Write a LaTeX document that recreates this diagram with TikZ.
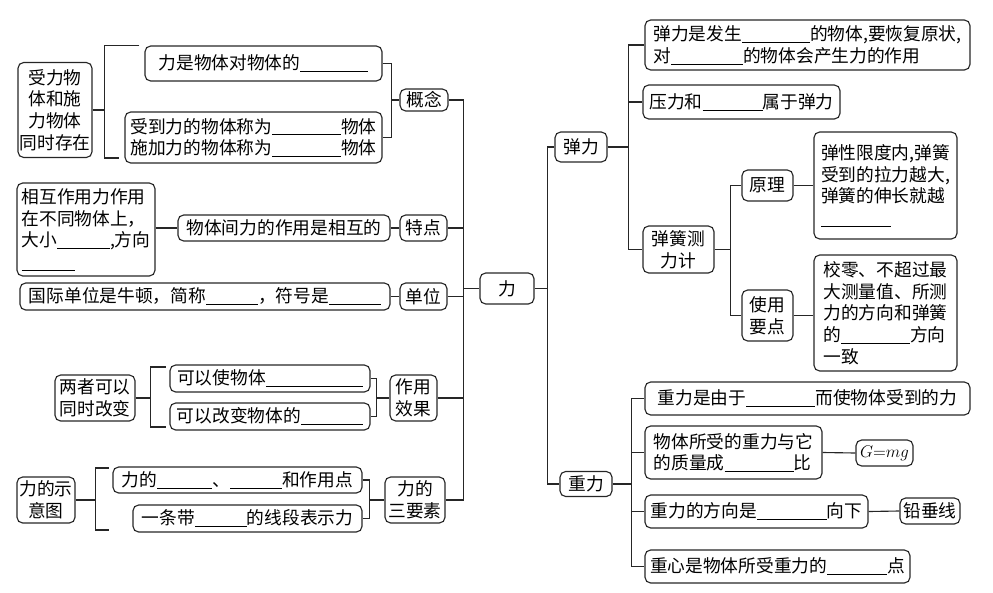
\documentclass[tikz,border=0pt]{standalone}
\usepackage{fontspec}
\setmainfont{Noto Sans CJK SC}
\usetikzlibrary{calc}
\newcommand\blank[1]{\rule[-1.5pt]{\dimexpr0.025cm*#1\relax}{0.6pt}}

\begin{document}
\begin{tikzpicture}[
  x=0.025cm, y=-0.025cm,
  font=\fontsize{12.6}{15.4}\selectfont,
  box/.style={draw=black!85, rounded corners=4pt, line width=0.8pt, inner sep=1pt, align=center},
  sz/.style 2 args={minimum width=#1*0.025cm, minimum height=#2*0.025cm},
  conn/.style={draw=black!85, line width=0.8pt}
]
\useasboundingbox (0,0) rectangle (993,592);
% left side
\node[box, sz={74}{95}] (sl) at (55,110) {受力物\\体和施\\力物体\\同时存在};
\node[box, sz={237}{35}] (c1) at (263.5,63.5) {力是物体对物体的\blank{68}};
\node[box, sz={257}{51}, align=left] (c2) at (253.5,137.5) {受到力的物体称为\blank{69}物体\\施加力的物体称为\blank{69}物体};
\node[box, sz={48}{22}] (gn) at (424,100) {概念};
\node[box, sz={138}{93}, align=left] (hx) at (86,229.5) {相互作用力作用\\在不同物体上，\\大小\blank{53},方向\\\blank{53}};
\node[box, sz={212}{26}] (wt) at (284,228) {物体间力的作用是相互的};
\node[box, sz={47}{26}] (td) at (423.5,228) {特点};
\node[box, sz={370}{27}] (gj) at (205,296.5) {国际单位是牛顿，简称\blank{52}，符号是\blank{52}};
\node[box, sz={47}{27}] (dw) at (423.5,296.5) {单位};
\node[box, sz={80}{46}] (lz) at (95,398) {两者可以\\同时改变};
\node[box, sz={200}{27}] (k1) at (270,378.5) {可以使物体\blank{97}};
\node[box, sz={200}{27}] (k2) at (270,416.5) {可以改变物体的\blank{62}};
\node[box, sz={47}{46}] (xg) at (413.5,398) {作用\\效果};
\node[box, sz={58}{46}] (sx) at (46,500) {力的示\\意图};
\node[box, sz={249}{26}] (y1) at (237.5,480) {力的\blank{55}、\blank{52}和作用点};
\node[box, sz={229}{27}] (y2) at (247.5,518.5) {一条带\blank{52}的线段表示力};
\node[box, sz={60}{46}] (ys) at (415,500) {力的\\三要素};
% centre
\node[box, sz={54}{31}] (li) at (507,288.5) {力};
% right side
\node[box, sz={52}{30}] (tl) at (581,147) {弹力};
\node[box, sz={325}{50}, align=left] (t1) at (807.5,45) {弹力是发生\blank{68}的物体,要恢复原状,\\对\blank{72}的物体会产生力的作用};
\node[box, sz={197}{34}] (t2) at (741.5,102) {压力和\blank{60}属于弹力};
\node[box, sz={71}{47}] (cl) at (678.5,249.5) {弹簧测\\力计};
\node[box, sz={51}{31}] (yl) at (767.5,185.5) {原理};
\node[box, sz={143}{107}, align=left] (tx) at (885.5,185.5) {弹性限度内,弹簧\\受到的拉力越大,\\弹簧的伸长就越\\\blank{70}};
\node[box, sz={51}{51}] (sd) at (767.5,315.5) {使用\\要点};
\node[box, sz={143}{116}, align=left] (jl) at (885.5,313) {校零、不超过最\\大测量值、所测\\力的方向和弹簧\\的\blank{69}方向\\一致};
\node[box, sz={52}{25}] (zl) at (586,484) {重力};
\node[box, sz={325}{33}] (g1) at (807.5,398.5) {重力是由于\blank{69}而使物体受到的力};
\node[box, sz={177}{53}, align=left] (g2) at (733.5,452.5) {物体所受的重力与它\\的质量成\blank{69}比};
\node[box, sz={57}{26}] (gm) at (884.5,453) {$G{=}mg$};
\node[box, sz={223}{33}] (g3) at (756.5,511.5) {重力的方向是\blank{70}向下};
\node[box, sz={60}{26}] (qc) at (930,511) {铅垂线};
\node[box, sz={265}{33}] (g4) at (777.5,566.5) {重心是物体所受重力的\blank{60}点};

% spines
\coordinate (sp) at ($(li.west)+(-16,0)$);
\coordinate (rsp) at ($(li.east)+(13,0)$);
\coordinate (gk) at ($(gn.west)+(-8,0)$);
\coordinate (xk) at ($(xg.west)+(-13,0)$);
\coordinate (yk) at ($(ys.west)+(-15,0)$);
\coordinate (tk) at ($(tl.east)+(21,0)$);
\coordinate (ck) at ($(cl.east)+(16,0)$);
\coordinate (zk) at ($(zl.east)+(19,0)$);

% left connectors
\draw[conn] (sl.east) -- ++(12,0);
\draw[conn] ($(c1.north west)+(-5,0)$) -| ($(sl.east)+(12,48)$) -- ++(14,0);
\draw[conn] (c1.east) -| (gk) |- (c2.east);
\draw[conn] (gk) -- (gn.west);
\draw[conn] (gn.east) -| (sp);
\draw[conn] (sp) -- (li.west);
\draw[conn] (hx.east |- wt.west) -- (wt.west);
\draw[conn] (wt.east) -- (td.west);
\draw[conn] (td.east) -| (sp);
\draw[conn] (gj.east) -- (dw.west);
\draw[conn] (dw.east) -| (sp);
\draw[conn] (lz.east) -- ++(15,0) coordinate (lzb);
\draw[conn] ($(lzb)+(15,-31)$) -| ($(lzb)+(0,29)$) -- ++(15,0);
\draw[conn] (k1.east) -| (xk) |- (k2.east);
\draw[conn] (xk) -- (xg.west);
\draw[conn] (xg.east) -| (sp);
\draw[conn] (sx.east) -- ++(20,0) coordinate (sxb);
\draw[conn] ($(sxb)+(13,-32)$) -| ($(sxb)+(0,30)$) -- ++(13,0);
\draw[conn] (y1.east) -| (yk) |- (y2.east);
\draw[conn] (yk) -- (ys.west);
\draw[conn] (ys.east) -| (sp);

% right connectors
\draw[conn] (li.east) -- (rsp);
\draw[conn] (rsp) |- (tl.west);
\draw[conn] (rsp) |- (zl.west);
\draw[conn] (tl.east) -- (tk);
\draw[conn] (tk) |- (t1.west);
\draw[conn] (tk) |- (t2.west);
\draw[conn] (tk) |- (cl.west);
\draw[conn] (cl.east) -- (ck);
\draw[conn] (ck) |- (yl.west);
\draw[conn] (ck) |- (sd.west);
\draw[conn] (yl.east) -- (tx.west);
\draw[conn] (sd.east) -- (sd.east -| jl.west);
\draw[conn] (zl.east) -- (zk);
\draw[conn] (zk) |- (g1.west);
\draw[conn] (zk) |- (g2.west);
\draw[conn] (zk) |- (g3.west);
\draw[conn] (zk) |- (g4.west);
\draw[conn] (g2.east) -- (gm.west);
\draw[conn] (g3.east) -- (qc.west);
\end{tikzpicture}
\end{document}
